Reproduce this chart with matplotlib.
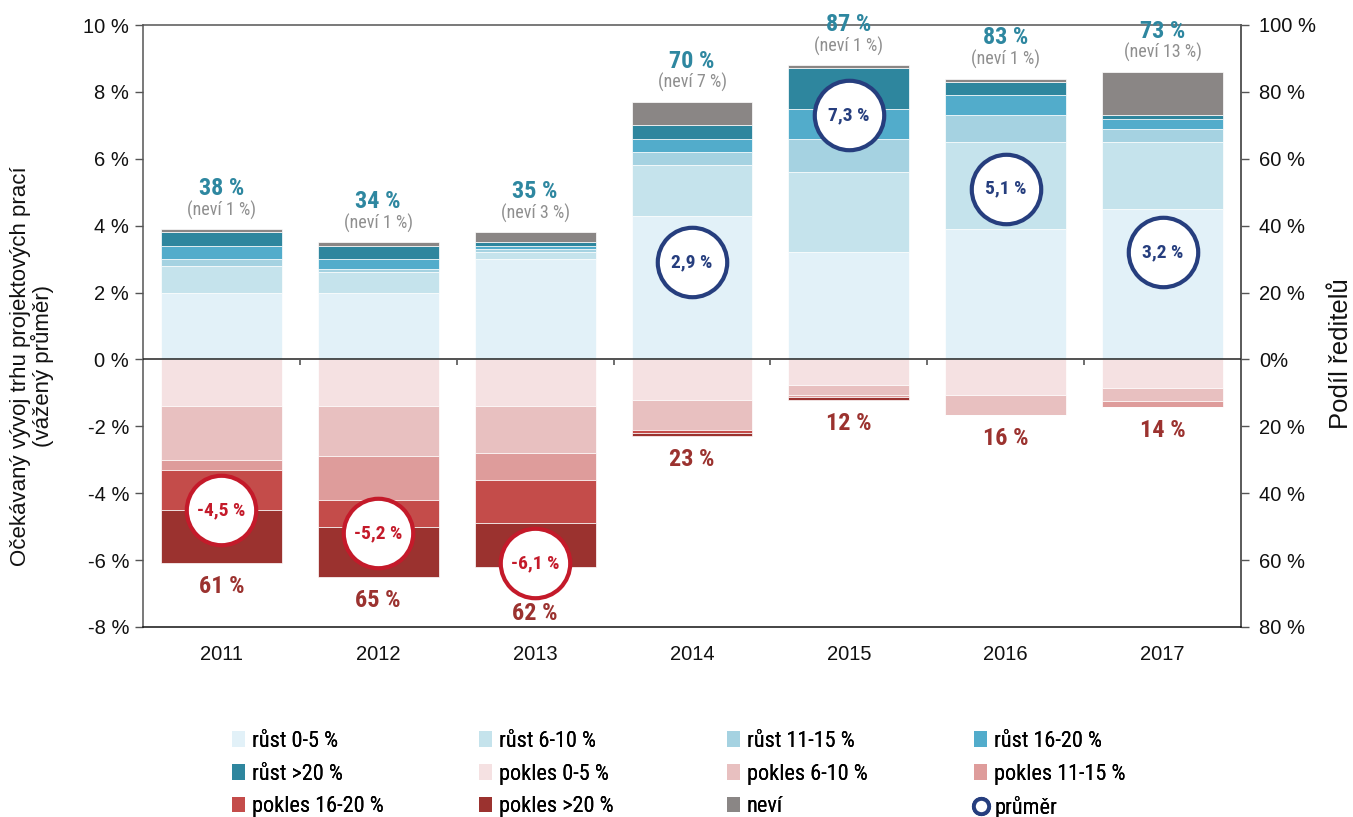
import matplotlib
matplotlib.use("Agg")
import matplotlib.pyplot as plt
import numpy as np
from matplotlib.patches import Patch
from matplotlib.lines import Line2D
from matplotlib.ticker import FixedLocator, FixedFormatter

# ---------------- data ----------------
years = ["2011", "2012", "2013", "2014", "2015", "2016", "2017"]

# shares of directors (%), growth categories
rust_0_5 = [20, 20, 30, 43, 32, 39, 45]
rust_6_10 = [8, 6, 2, 15, 24, 26, 20]
rust_11_15 = [2, 1, 1, 4, 10, 8, 4]
rust_16_20 = [4, 3, 1, 4, 9, 6, 3]
rust_20 = [4, 4, 1, 4, 12, 4, 1]
nevi = [1, 1, 3, 7, 1, 1, 13]

# shares of directors (%), decline categories
pokles_0_5 = [14, 14, 14, 12, 7.5, 10.5, 8.4]
pokles_6_10 = [16, 15, 14, 9, 3, 6, 3.9]
pokles_11_15 = [3, 13, 8, 0, 0.8, 0, 2]
pokles_16_20 = [12, 8, 13, 1, 0, 0, 0]
pokles_20 = [16, 15, 13, 1, 0.9, 0, 0]

# weighted average expected change (%)
prumer = [-4.5, -5.2, -6.1, 2.9, 7.3, 5.1, 3.2]
prumer_labels = ["-4,5 %", "-5,2 %", "-6,1 %", "2,9 %", "7,3 %", "5,1 %", "3,2 %"]

rust_total = ["38 %", "34 %", "35 %", "70 %", "87 %", "83 %", "73 %"]
nevi_labels = ["(neví 1 %)", "(neví 1 %)", "(neví 3 %)", "(neví 7 %)",
               "(neví 1 %)", "(neví 1 %)", "(neví 13 %)"]
pokles_total = ["61 %", "65 %", "62 %", "23 %", "12 %", "16 %", "14 %"]

left_ticks = [-8, -6, -4, -2, 0, 2, 4, 6, 8, 10]
left_ticklabels = ["-8 %", "-6 %", "-4 %", "-2 %", "0 %", "2 %", "4 %", "6 %", "8 %", "10 %"]
right_ticks = [-80, -60, -40, -20, 0, 20, 40, 60, 80, 100]
right_ticklabels = ["80 %", "60 %", "40 %", "20 %", "0%", "20 %", "40 %", "60 %", "80 %", "100 %"]

SCALE = 10  # 10 % of directors on the right axis = 1 % on the left axis

# ---------------- style ----------------
COND = ["Liberation Sans Narrow", "Roboto Condensed", "Open Sans Condensed",
        "DejaVu Sans Condensed", "Liberation Sans", "DejaVu Sans"]
ARIAL = ["Liberation Sans", "DejaVu Sans"]
plt.rcParams["font.family"] = ARIAL

pos_series = [
    ("růst 0-5 %", rust_0_5, "#e2f1f8"),
    ("růst 6-10 %", rust_6_10, "#c5e3ec"),
    ("růst 11-15 %", rust_11_15, "#a5d2e1"),
    ("růst 16-20 %", rust_16_20, "#52accb"),
    ("růst >20 %", rust_20, "#2e869e"),
    ("neví", nevi, "#8a8685"),
]
neg_series = [
    ("pokles 0-5 %", pokles_0_5, "#f5e1e2"),
    ("pokles 6-10 %", pokles_6_10, "#e8c0c0"),
    ("pokles 11-15 %", pokles_11_15, "#de9c9b"),
    ("pokles 16-20 %", pokles_16_20, "#c44c4a"),
    ("pokles >20 %", pokles_20, "#9b322f"),
]

TEAL = "#2e87a0"
DARKRED = "#9b322f"
GREY = "#8f8f8f"
NAVY = "#263e7e"
RED = "#c41a2a"
SPINE = "#555555"

W, H = 1353, 817
fig = plt.figure(figsize=(W / 100, H / 100), dpi=100)
ax = fig.add_axes([143 / W, 1 - 627 / H, (1241 - 143) / W, (627 - 25) / H])

x = np.arange(len(years))
bw = 0.77

# positive stacks
bottom = np.zeros(len(years))
for name, vals, col in pos_series:
    v = np.array(vals, dtype=float) / SCALE
    ax.bar(x, v, bw, bottom=bottom, color=col, edgecolor="white", linewidth=0.5, zorder=2)
    bottom += v
pos_top = bottom.copy()

# negative stacks
bottom = np.zeros(len(years))
for name, vals, col in neg_series:
    v = -np.array(vals, dtype=float) / SCALE
    ax.bar(x, v, bw, bottom=bottom, color=col, edgecolor="white", linewidth=0.5, zorder=2)
    bottom += v
neg_bottom = bottom.copy()

# zero line and category separators
ax.axhline(0, color="#222222", lw=1.1, zorder=3)
ax.vlines(x[:-1] + 0.5, -0.17, 0, color=SPINE, lw=1.2, zorder=3)

# average circles
prumer_arr = np.array(prumer)
for xi, val, lab in zip(x, prumer_arr, prumer_labels):
    c = RED if val < 0 else NAVY
    ax.scatter([xi], [val], s=2500, facecolor="white", edgecolor=c, linewidth=3.0, zorder=5)
    ax.text(xi, val, lab, ha="center", va="center", color=c, fontsize=14,
            fontweight="bold", family=COND, zorder=6)

# labels above / below bars
for xi, top, t1, t2 in zip(x, pos_top, rust_total, nevi_labels):
    ax.text(xi, top + 1.22, t1, ha="center", va="center", color=TEAL, fontsize=17.5,
            fontweight="bold", family=COND, zorder=6, clip_on=False)
    ax.text(xi, top + 0.57, t2, ha="center", va="center", color=GREY, fontsize=13,
            family=COND, zorder=6, clip_on=False)

for xi, bot, val, t in zip(x, neg_bottom, prumer_arr, pokles_total):
    y = bot - 0.7
    if val < 0:
        y = min(y, val - 1.5)
    ax.text(xi, y, t, ha="center", va="center", color=DARKRED, fontsize=17.5,
            fontweight="bold", family=COND, zorder=6)

# axes formatting
ax.set_xlim(-0.5, len(years) - 0.5)
ax.set_ylim(-8, 10)
ax.set_xticks(x)
ax.set_xticklabels(years, fontsize=14.5, color="#111111")
ax.tick_params(axis="x", length=0, pad=13)
ax.yaxis.set_major_locator(FixedLocator(left_ticks))
ax.yaxis.set_major_formatter(FixedFormatter(left_ticklabels))
ax.tick_params(axis="y", direction="out", length=6, width=1, color=SPINE,
               labelsize=14.5, labelcolor="#111111", pad=4)
for s in ["left", "top", "right"]:
    ax.spines[s].set_color(SPINE)
    ax.spines[s].set_linewidth(1.1)
ax.spines["bottom"].set_color("#111111")
ax.spines["bottom"].set_linewidth(1.1)

sec = ax.secondary_yaxis("right", functions=(lambda v: v * SCALE, lambda v: v / SCALE))
sec.yaxis.set_major_locator(FixedLocator(right_ticks))
sec.yaxis.set_major_formatter(FixedFormatter(right_ticklabels))
sec.tick_params(axis="y", direction="out", length=6, width=1, color=SPINE,
                labelsize=14.5, labelcolor="#111111", pad=7)
sec.spines["right"].set_color(SPINE)
sec.spines["right"].set_linewidth(1.1)

# axis titles
fig.text(32 / W, 1 - 366 / H, "Očekávaný vývoj trhu projektových prací\n(vážený průměr)",
         rotation=90, ha="center", va="center", multialignment="center",
         fontsize=16, color="#111111", linespacing=1.0)
fig.text(1341 / W, 1 - 354 / H, "Podíl ředitelů", rotation=90, ha="center", va="center",
         fontsize=18.5, color="#111111")

# legend: 4 columns, row-major order
handles = [Patch(facecolor=c, edgecolor="none", label=n) for n, v, c in pos_series[:5]]
handles += [Patch(facecolor=c, edgecolor="none", label=n) for n, v, c in neg_series]
handles += [Patch(facecolor=pos_series[5][2], edgecolor="none", label=pos_series[5][0])]
handles += [Line2D([], [], marker="o", linestyle="none", markersize=11,
                   markerfacecolor="white", markeredgecolor=NAVY, markeredgewidth=2.8,
                   label="průměr")]
col_x = [232, 479, 727, 974]
for ci in range(4):
    hs = [handles[ci + 4 * r] for r in range(3)]
    leg = fig.legend(handles=hs, loc="upper left", bbox_to_anchor=(col_x[ci] / W, 1 - 731 / H),
                     frameon=False, ncol=1, handlelength=0.6, handleheight=0.7,
                     handletextpad=0.3, labelspacing=0.52, borderpad=0, borderaxespad=0,
                     prop={"family": COND, "size": 16})
    fig.add_artist(leg)

fig.savefig("out.png", dpi=100)
